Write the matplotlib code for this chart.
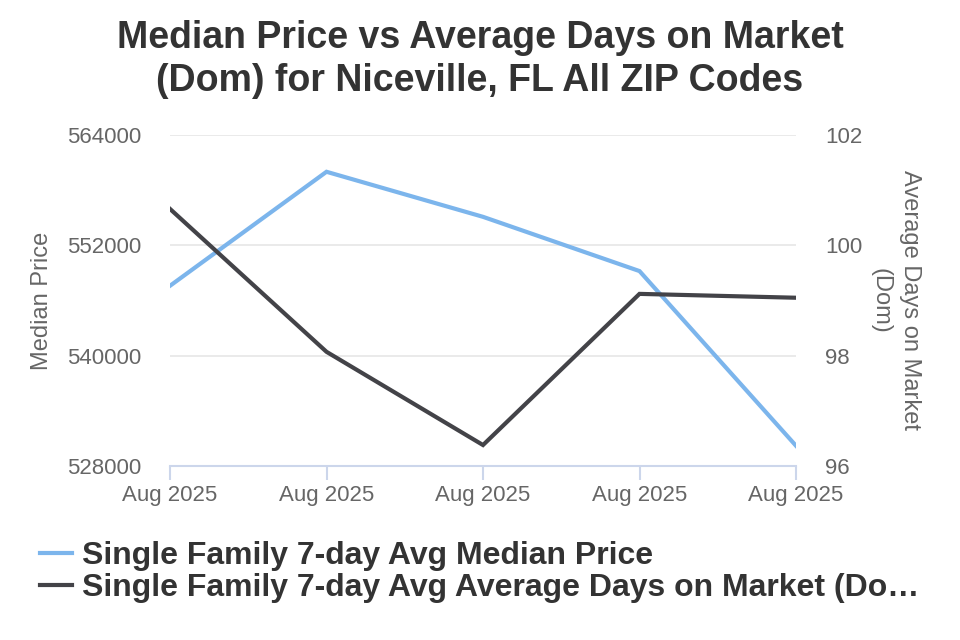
import matplotlib.pyplot as plt
from matplotlib.lines import Line2D

plt.rcParams['font.family'] = ['Liberation Sans', 'DejaVu Sans']

# data
dates = ['Aug 2025', 'Aug 2025', 'Aug 2025', 'Aug 2025', 'Aug 2025']
median_price = [547600, 560000, 555100, 549200, 530200]
avg_dom = [100.66, 98.07, 96.38, 99.12, 99.05]
price_ticks = [528000, 540000, 552000, 564000]
dom_ticks = [96, 98, 100, 102]

blue = '#7cb5ec'
dark = '#434348'
grey = '#666666'

fig = plt.figure(figsize=(9.6, 6.4), dpi=100)
ax = fig.add_axes([170/960, 1 - 466/640, 626/960, 331/640])
ax2 = ax.twinx()

x = list(range(len(dates)))
ax.plot(x, median_price, color=blue, lw=3, solid_joinstyle='miter', zorder=3)
ax2.plot(x, avg_dom, color=dark, lw=3, solid_joinstyle='miter', zorder=3)

ax.set_xlim(0, len(dates) - 1)
ax.set_ylim(528000, 564000)
ax2.set_ylim(96, 102)
ax.set_yticks(price_ticks)
ax.set_yticklabels([str(v) for v in price_ticks])
ax2.set_yticks(dom_ticks)
ax.set_xticks(x)
ax.set_xticklabels(dates)

ax.grid(axis='y', color='#e6e6e6', lw=1.2)
ax.set_axisbelow(True)
for a in (ax, ax2):
    for s in ['top', 'left', 'right', 'bottom']:
        a.spines[s].set_visible(False)
ax.spines['bottom'].set_visible(True)
ax.spines['bottom'].set_color('#ccd6eb')
ax.spines['bottom'].set_linewidth(1.5)

ax.tick_params(axis='x', colors='#ccd6eb', length=10, width=1.5, labelcolor=grey,
               labelsize=16, pad=4)
ax.tick_params(axis='y', length=0, labelcolor=grey, labelsize=16, pad=21)
ax2.tick_params(axis='y', length=0, labelcolor=grey, labelsize=16, pad=21)

ax.set_ylabel('Median Price', color=grey, fontsize=17, labelpad=10)
ax2.set_ylabel('Average Days on Market\n(Dom)', color=grey, fontsize=17,
               rotation=270, labelpad=42, linespacing=1.4)

fig.suptitle('Median Price vs Average Days on Market\n(Dom) for Niceville, FL All ZIP Codes',
             x=0.5, y=0.968, fontsize=27, fontweight='bold', color='#333333',
             linespacing=1.22)

handles = [Line2D([], [], color=blue, lw=3), Line2D([], [], color=dark, lw=3)]
labels = ['Single Family 7-day Avg Median Price',
          'Single Family 7-day Avg Average Days on Market (Do…']
leg = fig.legend(handles, labels, loc='upper left', bbox_to_anchor=(40/960, 0.155),
                 frameon=False, handlelength=1.0, handletextpad=0.31, borderpad=0,
                 borderaxespad=0, labelspacing=0.08, prop={'size': 23, 'weight': 'bold'})
for t in leg.get_texts():
    t.set_color('#333333')

fig.savefig('out.png', dpi=100)
